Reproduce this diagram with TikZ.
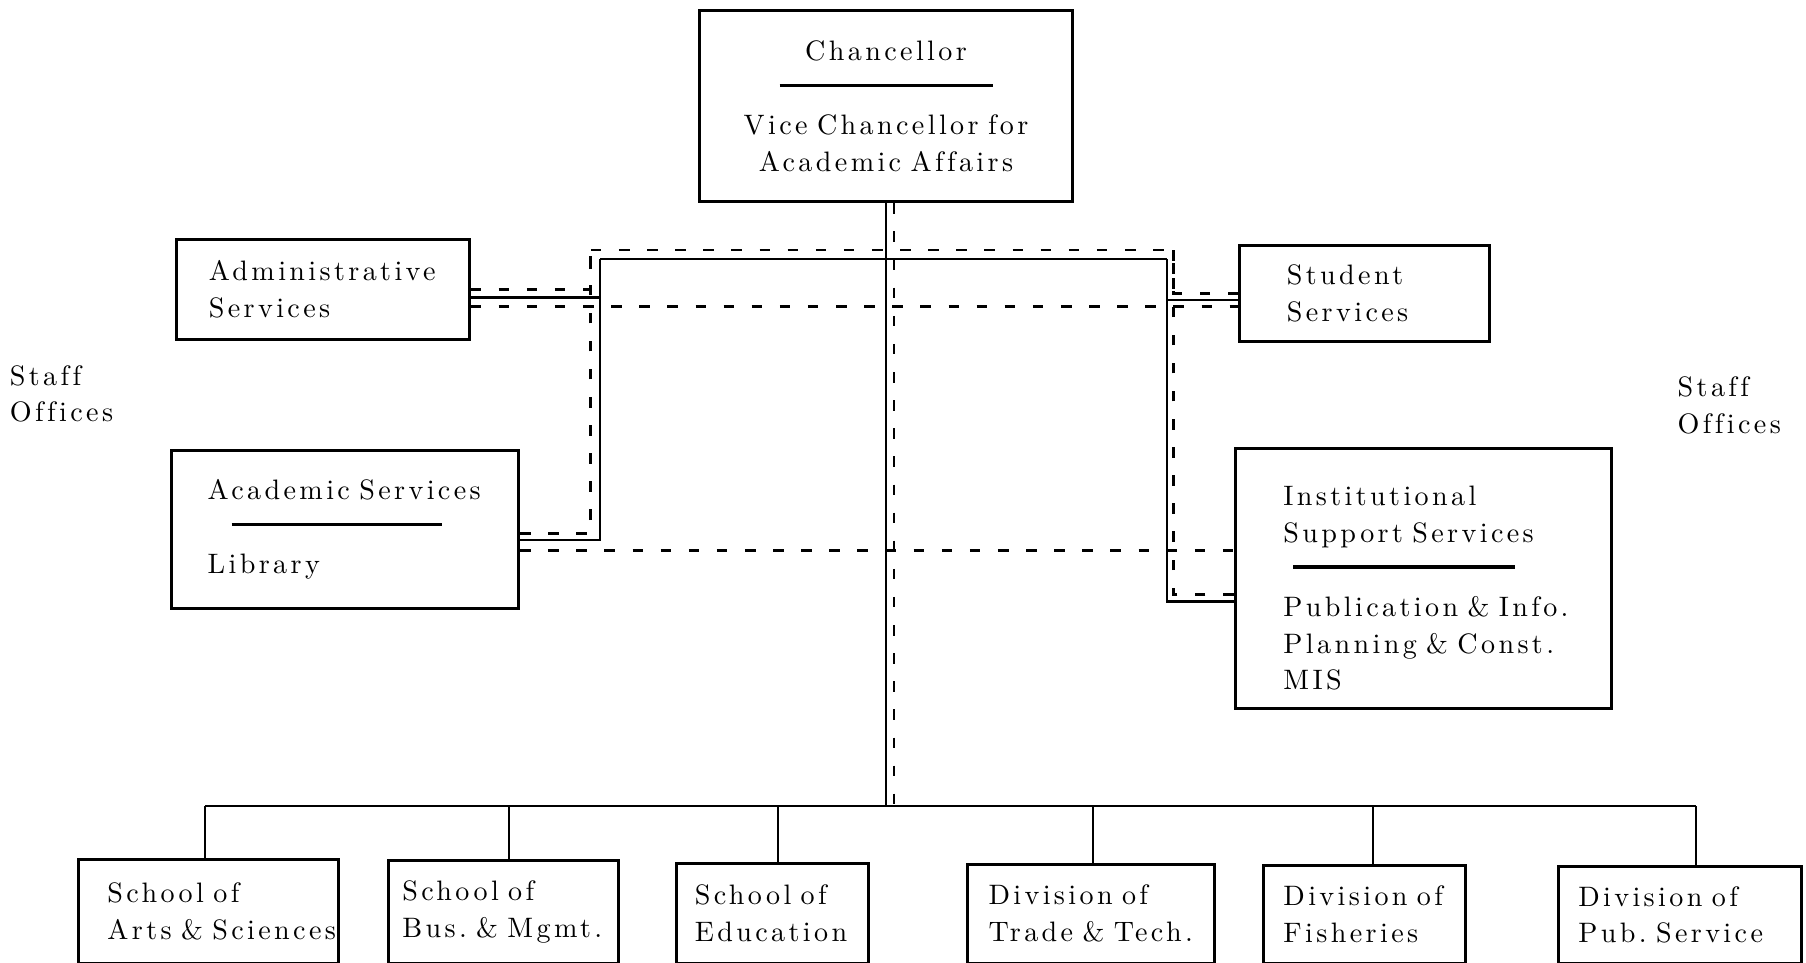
\documentclass[tikz,border=0pt]{standalone}
\usepackage{fontspec}
\usepackage{tikz}
\newfontfamily\orgfam{lmroman10-regular.otf}[LetterSpace=12, WordSpace=1.3, Ligatures=NoCommon]
\newcommand\orgfont{\orgfam\fontsize{8}{10.5}\selectfont\hyphenpenalty=10000\exhyphenpenalty=10000}
\tikzset{
    office/.style={
           rectangle,
           draw=black, line width=0.85pt,
           anchor=north west,
           inner ysep=0pt,
           align=left,
           font=\orgfont,
           },
    solidlink/.style={draw=black, line width=0.6pt},
    dashlink/.style={draw=black, line width=0.8pt, dash pattern=on 3pt off 5pt},
}

\begin{document}
\begin{tikzpicture}[x=0.011518cm, y=-0.011518cm]
      \useasboundingbox (0,0) rectangle (1568,836);
      \node[office, align=center, text width=3.4cm, minimum width=3.732cm, minimum height=1.912cm] (chan) at (606,8)
            {Chancellor\\ \rule[3pt]{2.13cm}{1pt}\\ Vice~Chancellor~for\\ Academic~Affairs};
      \node[office, text width=2.281cm, inner xsep=0.3225cm, minimum height=0.991cm] (adm) at (152,207) {Administrative\\ Services};
      \node[office, text width=2.753cm, inner xsep=0.357cm, minimum height=1.578cm] (acad) at (148,390)
            {Academic~Services\\ \hspace*{0.24cm}\rule[3pt]{2.1cm}{1pt}\\ Library};
      \node[office, text width=1.555cm, inner xsep=0.472cm, minimum height=0.956cm] (stu) at (1075,212) {Student\\ Services};
      \node[office, text width=2.799cm, inner xsep=0.484cm, minimum height=2.603cm] (inst) at (1071,388)
            {\rule{0pt}{0.39cm}Institutional\\ Support~Services\\ \hspace*{0.1cm}\rule[3pt]{2.22cm}{1pt}\\ Publication~\&~Info.\\ Planning~\&~Const.\\ MIS};
      \node[office, text width=2.027cm, inner xsep=0.288cm, minimum height=1.037cm] (s1) at (67,745) {School~of\\ \mbox{Arts~\&~Sciences}};
      \node[office, text width=2.027cm, inner xsep=0.138cm, minimum height=1.025cm] (s2) at (336,746) {School~of\\ \mbox{Bus.~\&~Mgmt.}};
      \node[office, text width=1.555cm, inner xsep=0.184cm, minimum height=1.002cm] (s3) at (586,748) {School~of\\ Education};
      \node[office, text width=2.050cm, inner xsep=0.207cm, minimum height=0.991cm] (s4) at (839,749) {Division~of\\ \mbox{Trade~\&~Tech.}};
      \node[office, text width=1.624cm, inner xsep=0.196cm, minimum height=0.979cm] (s5) at (1096,750) {Division~of\\ Fisheries};
      \node[office, text width=2.039cm, inner xsep=0.196cm, minimum height=0.967cm] (s6) at (1352,751) {Division~of\\ \mbox{Pub.~Service}};
      \node[font=\orgfont, align=left, anchor=west, inner sep=0pt] (staffl) at (8,342) {Staff\\ Offices};
      \node[font=\orgfont, align=left, anchor=west, inner sep=0pt] (staffr) at (1456,352) {Staff\\ Offices};

      \coordinate (ltop) at (521,225);
      \coordinate (rtop) at (1013,225);
      \coordinate (ldtop) at (513,217);
      \coordinate (rdtop) at (1019,217);
      \coordinate (bus) at (771,700);

      \draw[solidlink] (chan.south) -- (chan.south |- bus);
      \draw[solidlink] (ltop) -- (rtop);
      \draw[solidlink] ([yshift=-0.08cm]adm.east) -| (ltop);
      \draw[solidlink] ([yshift=-0.1cm]acad.east) -| (ltop);
      \draw[solidlink] ([yshift=-0.063cm]stu.west) -| (rtop);
      \draw[solidlink] ([yshift=-0.23cm]inst.west) -| (rtop);
      \draw[solidlink] ([xshift=-0.035cm]s1.north |- bus) -- ([xshift=0.155cm]s6.north |- bus);
      \foreach \s/\dx in {s1/-0.035cm, s2/0.058cm, s3/0.052cm, s4/0.023cm, s5/0.086cm, s6/0.155cm}
            \draw[solidlink] ([xshift=\dx]\s.north) -- ([xshift=\dx]\s.north |- bus);

      \draw[dashlink] ([xshift=0.08cm]chan.south) -- ([xshift=0.08cm]chan.south |- bus);
      \draw[dashlink] (ldtop) -- (rdtop);
      \draw[dashlink] (adm.east) -| (ldtop);
      \draw[dashlink] ([yshift=-0.04cm]acad.east) -| (ldtop);
      \draw[dashlink] (stu.west) -| (rdtop);
      \draw[dashlink] ([yshift=-0.16cm]inst.west) -| (rdtop);
      \draw[dashlink] ([yshift=-0.173cm]adm.east) -- ([yshift=-0.173cm]adm.east -| stu.west);
      \draw[dashlink] ([yshift=-0.213cm]acad.east) -- ([yshift=-0.213cm]acad.east -| inst.west);
\end{tikzpicture}
\end{document}
